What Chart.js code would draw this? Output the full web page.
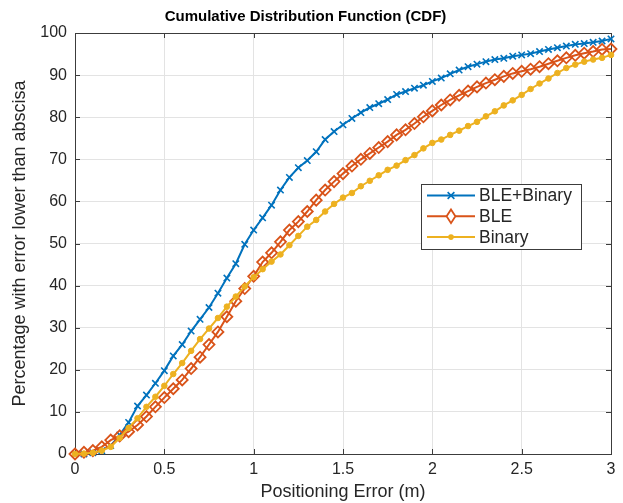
<!DOCTYPE html>
<html>
<head>
<meta charset="utf-8">
<title>CDF</title>
<script src="https://cdn.jsdelivr.net/npm/chart.js@4.4.0/dist/chart.umd.min.js"></script>
<style>
  html, body { margin: 0; padding: 0; background: #fff; }
  #wrap { position: relative; width: 623px; height: 503px; }
</style>
</head>
<body>
<div id="wrap"><canvas id="cdfChart"></canvas></div>
<script>
'use strict';

/* #################### data #################### */
let errorM = [0, 0.05, 0.1, 0.15, 0.2, 0.25, 0.3, 0.35, 0.4, 0.45,
  0.5, 0.55, 0.6, 0.65, 0.7, 0.75, 0.8, 0.85, 0.9, 0.95,
  1, 1.05, 1.1, 1.15, 1.2, 1.25, 1.3, 1.35, 1.4, 1.45,
  1.5, 1.55, 1.6, 1.65, 1.7, 1.75, 1.8, 1.85, 1.9, 1.95,
  2, 2.05, 2.1, 2.15, 2.2, 2.25, 2.3, 2.35, 2.4, 2.45,
  2.5, 2.55, 2.6, 2.65, 2.7, 2.75, 2.8, 2.85, 2.9, 2.95, 3];

let bleBinary = [0, 0, 0.3, 0.8, 2, 4.5, 7.5, 11.4, 14, 16.8,
  19.8, 23.3, 26, 29.2, 32, 34.8, 38.2, 41.8, 45.2, 49.8,
  53.2, 56.1, 59.1, 62.7, 65.7, 68, 69.7, 71.8, 74.7, 76.6,
  78.2, 79.7, 81.1, 82.3, 83.2, 84.2, 85.4, 86.1, 86.9, 87.6,
  88.5, 89.3, 90.3, 91.2, 92, 92.6, 93.2, 93.7, 94, 94.5,
  94.8, 95.1, 95.6, 96.1, 96.5, 96.9, 97.3, 97.5, 97.8, 98.1, 98.6];

let ble = [0, 0.4, 0.8, 1.7, 3.3, 4.3, 5.3, 6.9, 8.9, 11.2,
  13.4, 15.5, 17.6, 20.3, 23, 26, 29, 32.6, 36.3, 39.3,
  42.2, 45.6, 47.8, 50.4, 53.2, 55.2, 57.6, 60.3, 62.7, 64.7,
  66.6, 68.4, 70, 71.4, 72.8, 74.2, 75.8, 77, 78.5, 80.1,
  81.5, 82.9, 84.1, 85.2, 86.2, 87.2, 88.1, 88.9, 89.7, 90.4,
  90.9, 91.4, 92, 92.7, 93.4, 94.1, 94.7, 95.2, 95.6, 96.1, 96.2];

let binary = [0, 0.1, 0.3, 0.8, 1.7, 3.8, 6.2, 8.5, 11.2, 13.6,
  16.2, 19, 21.6, 24.5, 27.3, 29.8, 32.3, 35, 37.4, 39.8,
  42, 43.9, 45.7, 47.4, 49.6, 51.8, 54, 55.6, 57.6, 59.4,
  60.9, 62, 63.6, 64.9, 66.2, 67.5, 68.5, 69.8, 71, 72.6,
  73.9, 74.7, 75.8, 76.8, 77.9, 78.9, 80.2, 81.4, 82.8, 84,
  85.3, 86.7, 88, 89.2, 90.5, 91.7, 92.5, 93.2, 93.7, 94.1, 94.8];

let seriesNames = ['BLE+Binary', 'BLE', 'Binary'];
let xTicks = [0, 0.5, 1, 1.5, 2, 2.5, 3];
let yTicks = [0, 10, 20, 30, 40, 50, 60, 70, 80, 90, 100];

/* #################### styles #################### */
const FONT = 'Liberation Sans, Arial, Helvetica, sans-serif';
const TEXT = '#262626';
const AXIS = '#3c3c3c';
const GRID = '#e3e3e3';
const colors = ['#0072BD', '#D95319', '#EDB120'];
const markers = [
  { style: 'crossRot', radius: 4.5, fill: '#0072BD', width: 1.6 },
  { style: 'rectRot', radius: 5.5, fill: 'rgba(0,0,0,0)', width: 1.8 },
  { style: 'circle', radius: 2.8, fill: '#EDB120', width: 1 }
];

function toPoints(values) {
  let pts = [];
  for (let idx = 0; idx < errorM.length; idx++) {
    pts.push({ x: errorM[idx], y: values[idx] });
  }
  return pts;
}

// draw a marker by hand for the legend
function drawMarker(ctx, m, color, x, y) {
  ctx.save();
  ctx.strokeStyle = color;
  ctx.fillStyle = m.fill;
  ctx.lineWidth = m.width;
  ctx.beginPath();
  if (m.style === 'crossRot') {
    let r = m.radius * 0.75;
    ctx.moveTo(x - r, y - r); ctx.lineTo(x + r, y + r);
    ctx.moveTo(x + r, y - r); ctx.lineTo(x - r, y + r);
    ctx.stroke();
  } else if (m.style === 'rectRot') {
    let rx = m.radius * 0.8, ry = m.radius * 1.25;
    ctx.moveTo(x, y - ry); ctx.lineTo(x + rx, y); ctx.lineTo(x, y + ry); ctx.lineTo(x - rx, y);
    ctx.closePath();
    ctx.fillStyle = '#fff';
    ctx.fill();
    ctx.stroke();
  } else {
    ctx.arc(x, y, m.radius, 0, Math.PI * 2);
    ctx.fill();
  }
  ctx.restore();
}

/* #################### plugin: matlab style box, inward ticks and legend #################### */
const matlabFrame = {
  id: 'matlabFrame',
  beforeDatasetsDraw(chart) {
    const { ctx, chartArea: a, scales } = chart;
    ctx.save();
    ctx.strokeStyle = AXIS;
    ctx.lineWidth = 1;
    ctx.strokeRect(Math.round(a.left) + 0.5, Math.round(a.top) + 0.5,
      Math.round(a.right - a.left), Math.round(a.bottom - a.top));
    ctx.beginPath();
    xTicks.forEach(v => {
      let px = Math.round(scales.x.getPixelForValue(v)) + 0.5;
      ctx.moveTo(px, a.bottom); ctx.lineTo(px, a.bottom - 5);
      ctx.moveTo(px, a.top); ctx.lineTo(px, a.top + 5);
    });
    yTicks.forEach(v => {
      let py = Math.round(scales.y.getPixelForValue(v)) + 0.5;
      ctx.moveTo(a.left, py); ctx.lineTo(a.left + 5, py);
      ctx.moveTo(a.right, py); ctx.lineTo(a.right - 5, py);
    });
    ctx.stroke();
    ctx.restore();
  },
  afterDraw(chart) {
    const { ctx, chartArea: a } = chart;
    let boxX = a.right - 190, boxY = a.top + 151, boxW = 160, boxH = 65;
    ctx.save();
    ctx.fillStyle = '#fff';
    ctx.fillRect(boxX, boxY, boxW, boxH);
    ctx.strokeStyle = AXIS;
    ctx.lineWidth = 1;
    ctx.strokeRect(boxX + 0.5, boxY + 0.5, boxW, boxH);
    ctx.font = '17.5px ' + FONT;
    ctx.textBaseline = 'middle';
    for (let idx = 0; idx < seriesNames.length; idx++) {
      let rowY = boxY + 11.5 + idx * 20.8;
      ctx.strokeStyle = colors[idx];
      ctx.lineWidth = 2;
      ctx.beginPath();
      ctx.moveTo(boxX + 6, rowY); ctx.lineTo(boxX + 54, rowY);
      ctx.stroke();
      drawMarker(ctx, markers[idx], colors[idx], boxX + 30, rowY);
      ctx.fillStyle = TEXT;
      ctx.fillText(seriesNames[idx], boxX + 58, rowY + 1);
    }
    ctx.restore();
  }
};

/* #################### chart #################### */
const datasetValues = [bleBinary, ble, binary];
let datasets = [];
for (let idx = 0; idx < seriesNames.length; idx++) {
  datasets.push({
    label: seriesNames[idx],
    data: toPoints(datasetValues[idx]),
    borderColor: colors[idx],
    borderWidth: 2,
    pointStyle: markers[idx].style,
    pointRadius: markers[idx].radius,
    pointBorderWidth: markers[idx].width,
    pointBackgroundColor: markers[idx].fill,
    pointBorderColor: colors[idx],
    tension: 0,
    clip: 8,
    order: seriesNames.length - idx
  });
}

const config = {
  type: 'line',
  data: { datasets: datasets },
  plugins: [matlabFrame],
  options: {
    responsive: true,
    maintainAspectRatio: false,
    animation: false,
    layout: { padding: { top: 0, right: 12, bottom: 0, left: 0 } },
    plugins: {
      legend: { display: false },
      tooltip: { enabled: false },
      title: {
        display: true,
        text: 'Cumulative Distribution Function (CDF)',
        color: '#000',
        font: { family: FONT, size: 15, weight: 'bold' },
        padding: { top: 8, bottom: 7 }
      }
    },
    scales: {
      x: {
        type: 'linear',
        min: 0,
        max: 3,
        afterBuildTicks: scale => { scale.ticks = xTicks.map(v => ({ value: v })); },
        afterFit: scale => { scale.height = 49; },
        grid: { color: GRID, drawTicks: false },
        border: { display: false },
        ticks: {
          color: TEXT,
          padding: 6,
          font: { family: FONT, size: 16 },
          callback: v => String(v)
        },
        title: {
          display: true,
          text: 'Positioning Error (m)',
          color: TEXT,
          font: { family: FONT, size: 18 },
          padding: { top: 0, bottom: 0 }
        }
      },
      y: {
        type: 'linear',
        min: 0,
        max: 100,
        afterBuildTicks: scale => { scale.ticks = yTicks.map(v => ({ value: v })); },
        afterFit: scale => { scale.width = 75; },
        grid: { color: GRID, drawTicks: false },
        border: { display: false },
        ticks: {
          color: TEXT,
          padding: 8,
          font: { family: FONT, size: 16 },
          callback: v => String(v)
        },
        title: {
          display: true,
          text: 'Percentage with error lower than abscisa',
          color: TEXT,
          font: { family: FONT, size: 18 },
          padding: { top: 9, bottom: 0 }
        }
      }
    }
  }
};

const cdfChart = new Chart(document.getElementById('cdfChart'), config);
</script>
</body>
</html>
